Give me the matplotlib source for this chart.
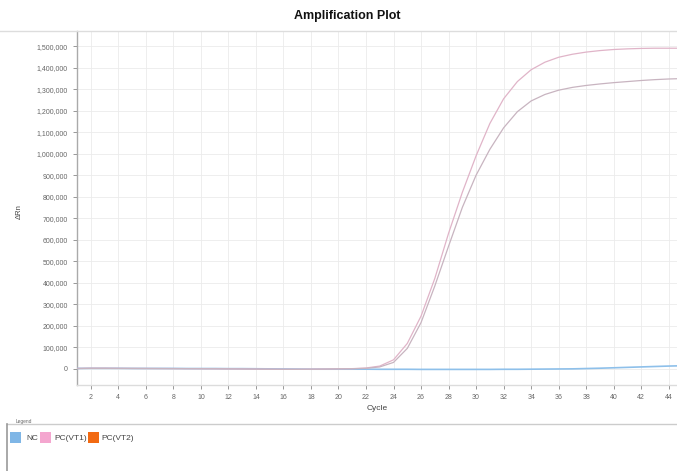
import matplotlib
matplotlib.use("Agg")
import matplotlib.pyplot as plt
from matplotlib.ticker import FuncFormatter
import matplotlib.patches as mpatches

plt.rcParams['font.family'] = ['Liberation Sans', 'DejaVu Sans']

cycles = list(range(1, 46))

nc = [2000, 2500, 2500, 2500, 2000, 2000, 2000, 2000, 1500, 1500,
      1500, 1000, 1000, 500, 0, -500, -1000, -1500, -1500, -1500,
      -1500, -1500, -2000, -2000, -2000, -2500, -2500, -2500, -2500, -2500,
      -2500, -2000, -2000, -1500, -1000, -500, 0, 1500, 3000, 5000,
      7000, 9000, 11000, 13000, 14500]

pc_vt1 = [2000, 3000, 3000, 2500, 2000, 2000, 1500, 1500, 1000, 1000,
          500, 0, -500, -1000, -1500, -2000, -2000, -1500, -1000, 0,
          1000, 4000, 13000, 42000, 118000, 245000, 420000, 630000, 820000, 990000,
          1140000, 1255000, 1335000, 1390000, 1425000, 1448000, 1462000, 1472000, 1479000, 1484000,
          1487000, 1489000, 1490000, 1490000, 1490000]

pc_vt2 = [1500, 2500, 2500, 2000, 2000, 1500, 1500, 1000, 1000, 500,
          500, 0, -500, -1000, -1500, -2000, -2000, -1500, -1000, 0,
          500, 2500, 9000, 30000, 95000, 215000, 385000, 570000, 750000, 900000,
          1020000, 1120000, 1195000, 1245000, 1275000, 1295000, 1308000, 1317000, 1324000, 1330000,
          1335000, 1340000, 1344000, 1347000, 1349000]

x_ticks = list(range(2, 46, 2))
y_ticks = list(range(0, 1600000, 100000))

legend_labels = ["NC", "PC(VT1)", "PC(VT2)"]
legend_colors = ["#7fb6e6", "#f4a6cf", "#f26a12"]

W, H = 677, 471
fig = plt.figure(figsize=(W / 100, H / 100), dpi=100)
fig.patch.set_facecolor("white")

left, right, top, bottom = 77, 677, 31, 385
ax = fig.add_axes([left / W, 1 - bottom / H, (right - left) / W, (bottom - top) / H])

ax.plot(cycles, nc, color="#8ec0ea", lw=1.2, zorder=3)
ax.plot(cycles, pc_vt1, color="#e0b4c8", lw=0.9, zorder=4)
ax.plot(cycles, pc_vt2, color="#c8b4c0", lw=0.9, zorder=4)

ax.set_xlim(1, 44.6)
ax.set_ylim(-75000, 1570000)
ax.set_xticks(x_ticks)
ax.set_yticks(y_ticks)
ax.yaxis.set_major_formatter(FuncFormatter(lambda v, p: f"{int(v):,}"))
ax.tick_params(axis="both", labelsize=5, colors="#888888", length=3, width=0.6)
for lbl in ax.get_xticklabels() + ax.get_yticklabels():
    lbl.set_color("#666666")
ax.grid(True, color="#ebebeb", lw=0.6)
ax.set_axisbelow(True)
for s in ["top", "right"]:
    ax.spines[s].set_visible(False)
ax.spines["left"].set_color("#aaaaaa")
ax.spines["bottom"].set_color("#dcdcdc")
ax.spines["left"].set_linewidth(1.0)
ax.spines["bottom"].set_linewidth(1.0)

fig.add_artist(plt.Line2D([0, 1], [1 - 31 / H, 1 - 31 / H], color="#dddddd", lw=1.0))

fig.text(347 / W, 1 - 16 / H, "Amplification Plot", ha="center", va="center",
         fontsize=9, fontweight="bold", color="#111111")
fig.text(377 / W, 1 - 408 / H, "Cycle", ha="center", va="center", fontsize=6, color="#444444")
fig.text(19 / W, 1 - 212 / H, "ΔRn", ha="center", va="center", fontsize=5.5,
         color="#444444", rotation=90)

fig.add_artist(plt.Line2D([7 / W, 1], [1 - 424 / H, 1 - 424 / H], color="#cccccc", lw=1.0))
fig.add_artist(plt.Line2D([7 / W, 7 / W], [1 - 424 / H, 0], color="#999999", lw=1.2))
fig.text(16 / W, 1 - 422 / H, "Legend", fontsize=3.5, color="#666666", va="center")

patch_x = [10, 40, 88]
text_x = [26, 54, 101]
for px, tx, lab, col in zip(patch_x, text_x, legend_labels, legend_colors):
    fig.add_artist(mpatches.Rectangle((px / W, 1 - 443 / H), 11 / W, 11 / H,
                                      facecolor=col, edgecolor="none", transform=fig.transFigure))
    fig.text(tx / W, 1 - 438 / H, lab, fontsize=6, color="#444444", va="center")

fig.savefig("out.png", dpi=100)
